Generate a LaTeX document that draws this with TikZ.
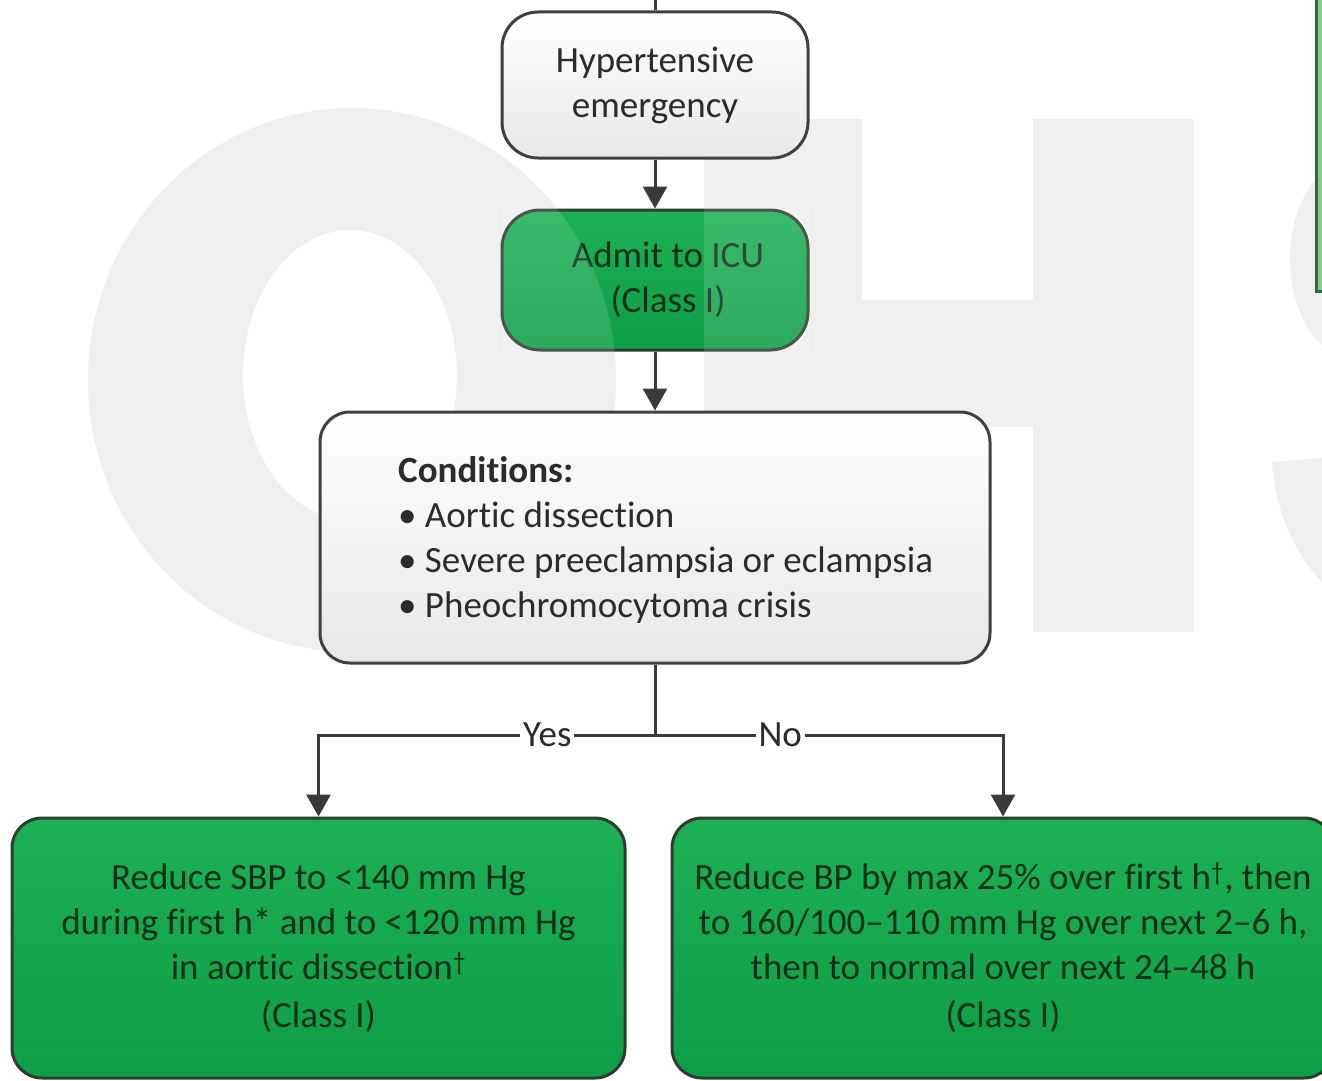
\documentclass[tikz,border=0pt]{standalone}
\usepackage{fontspec}
\setmainfont{Carlito}[Ligatures={NoCommon,NoContextual}]
\usetikzlibrary{arrows.meta,shadings}
\definecolor{wm}{HTML}{EFEFEF}
\definecolor{bord}{HTML}{404040}
\definecolor{gbord}{HTML}{2E3D31}
\definecolor{gtext}{HTML}{0E3018}
\definecolor{gtop}{HTML}{1DB055}
\definecolor{gbot}{HTML}{0E9E46}
\definecolor{side}{HTML}{86CB98}
\definecolor{sidebord}{HTML}{2E6B3C}
\definecolor{lnk}{HTML}{3A3A3A}
\definecolor{txt}{HTML}{2B2B2B}
\begin{document}
\begin{tikzpicture}[x=1pt,y=-1pt,
  every node/.style={font=\fontsize{37}{45}\selectfont},
  whitebox/.style={draw=bord, line width=3pt, rounded corners=32pt, top color=white, bottom color=black!9, inner sep=0pt, align=center, text=txt},
  greenbox/.style={draw=gbord, line width=3pt, rounded corners=32pt, top color=gtop, bottom color=gbot, inner sep=0pt, align=center, text=gtext},
  link/.style={draw=lnk, line width=3pt},
  arr/.style={link, -{Triangle[width=24pt,length=22pt]}},
  lbl/.style={fill=white, inner sep=3pt, text=txt},
  wmark/.style={fill=wm},
]
\useasboundingbox (0,0) rectangle (1322,1081);
\clip (0,0) rectangle (1322,1081);
\fill[white] (0,0) rectangle (1322,1081);

% watermark "OHS"
\fill[wmark, even odd rule] (352,380) ellipse [x radius=264pt, y radius=272pt]
                           (350,375) ellipse [x radius=107pt, y radius=145pt];
\fill[wmark] (704,119) rectangle (862,632);
\fill[wmark] (1033,119) rectangle (1194,632);
\fill[wmark] (862,300) rectangle (1033,427);
\fill[wmark] (1355,259) ellipse [x radius=65pt, y radius=100pt];
\fill[wmark] (1272,462) -- (1322,458) -- (1322,582) .. controls (1295,555) and (1275,510) .. (1272,462) -- cycle;

% partial side box
\node[draw=sidebord, fill=side, line width=3pt, minimum width=80pt, minimum height=320pt, inner sep=0pt] (sidebox) at (1356,131) {};

% main nodes
\node[whitebox, minimum width=306pt, minimum height=146pt, rounded corners=36pt] (he) at (655,85) {Hypertensive\\emergency};
\node[greenbox, minimum width=306pt, minimum height=140pt, rounded corners=38pt] (icu) at (655,280) {\hspace*{26pt}Admit to ICU\\\hspace*{26pt}(Class I)};
\node[whitebox, minimum width=670pt, minimum height=251pt, rounded corners=30pt] (cond) at (655,537.5) {};
\node[anchor=west, align=left, inner sep=0pt, text=txt] (condtext) at (398,540) {\textbf{Conditions:}\\• Aortic dissection\\• Severe preeclampsia or eclampsia\\• Pheochromocytoma crisis};
\node[greenbox, minimum width=613pt, minimum height=260pt, rounded corners=30pt] (yesbox) at (318.5,948) {Reduce SBP to <140 mm Hg\\during first h* and to <120 mm Hg\\in aortic dissection\textsuperscript{†}\\[3pt](Class I)};
\node[greenbox, minimum width=662pt, minimum height=260pt, rounded corners=30pt] (nobox) at (1003,948) {Reduce BP by max 25\% over first h\textsuperscript{†}, then\\to 160/100–110 mm Hg over next 2–6 h,\\then to normal over next 24–48 h\\[3pt](Class I)};

% watermark lightening over the green box
\begin{scope}
\clip (icu.south west) rectangle (icu.north east);
\fill[white, opacity=0.13, even odd rule] (352,380) ellipse [x radius=264pt, y radius=272pt]
                           (350,375) ellipse [x radius=107pt, y radius=145pt];
\fill[white, opacity=0.13] (704,119) rectangle (862,632);
\end{scope}

% connectors
\coordinate (topin) at (655,-5);
\coordinate (split) at (655,735);
\draw[link] (topin) -- (he.north);
\draw[arr] (he) -- (icu);
\draw[arr] (icu) -- (cond);
\draw[link] (cond.south) -- (split);
\draw[arr] (split) -| node[lbl, pos=0.16] (yeslbl) {Yes} (yesbox.north);
\draw[arr] (split) -| node[lbl, pos=0.18] (nolbl) {No} (nobox.north);
\end{tikzpicture}
\end{document}
